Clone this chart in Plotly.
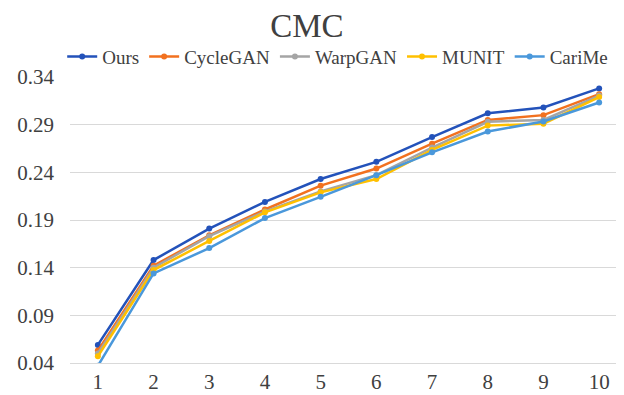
import plotly.graph_objects as go

ranks = [1, 2, 3, 4, 5, 6, 7, 8, 9, 10]
ours = [0.059, 0.148, 0.181, 0.209, 0.233, 0.251, 0.277, 0.302, 0.308, 0.328]
cyclegan = [0.053, 0.142, 0.174, 0.201, 0.226, 0.244, 0.270, 0.295, 0.300, 0.322]
warpgan = [0.050, 0.140, 0.173, 0.199, 0.220, 0.237, 0.266, 0.293, 0.295, 0.3205]
munit = [0.047, 0.1375, 0.168, 0.198, 0.219, 0.233, 0.2635, 0.289, 0.291, 0.319]
carime = [0.037, 0.134, 0.1605, 0.192, 0.2143, 0.237, 0.261, 0.2828, 0.2933, 0.3132]
yticks = [0.04, 0.09, 0.14, 0.19, 0.24, 0.29, 0.34]

series = [
    ("Ours", ours, "#2352BA"),
    ("CycleGAN", cyclegan, "#F2711F"),
    ("WarpGAN", warpgan, "#A5A5A5"),
    ("MUNIT", munit, "#FFC000"),
    ("CariMe", carime, "#4A98DB"),
]

fig = go.Figure()
for name, vals, col in series:
    fig.add_trace(go.Scatter(
        x=ranks, y=vals, name=name, mode="lines+markers",
        line=dict(color=col, width=2.5),
        marker=dict(color=col, size=6),
    ))

font = "Liberation Serif"
fig.update_layout(
    width=624, height=395,
    margin=dict(l=62, r=5, t=69, b=40, autoexpand=False),
    paper_bgcolor="white", plot_bgcolor="white",
    title=dict(text="CMC", x=0.479, xanchor="center", y=0.955, yanchor="middle",
               font=dict(family=font, size=33, color="#404040")),
    font=dict(family=font, color="#404040"),
    legend=dict(orientation="h", x=-0.014, xanchor="left", y=1.005, yanchor="bottom",
                font=dict(family=font, size=19, color="#404040"),
                itemwidth=30, tracegroupgap=0),
    xaxis=dict(tickmode="array", tickvals=ranks, ticktext=[str(r) for r in ranks],
               range=[0.5, 10.5], showgrid=False, zeroline=False, automargin=False,
               showline=True, linecolor="#D9D9D9", linewidth=1,
               ticks="", tickfont=dict(family=font, size=21, color="#404040")),
    yaxis=dict(tickmode="array", tickvals=yticks, ticktext=[f"{v:.2f}" for v in yticks],
               range=[0.04, 0.34], showgrid=True, gridcolor="#D9D9D9", gridwidth=1,
               zeroline=False, showline=False, ticks="", ticklabelstandoff=15,
               automargin=False,
               tickfont=dict(family=font, size=21, color="#404040")),
)

fig.write_html("out.html")
